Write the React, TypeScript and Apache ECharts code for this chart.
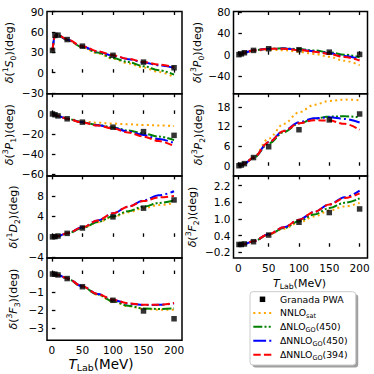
import React, { useEffect, useRef } from "react";
import * as echarts from "echarts";

// ---------------- data ----------------
const curveE = [1, 5, 10, 25, 50, 75, 100, 125, 150, 175, 200];
const pwaE = [1, 5, 10, 25, 50, 100, 150, 200];
const xTicks = [0, 50, 100, 150, 200];

// 1S0
const s1S0_pwa = [32.7, 54.8, 55.2, 48.7, 39.0, 25.5, 15.5, 7.2];
const s1S0_sat = [32.7, 54.5, 55.0, 48.0, 37.0, 28.5, 20.5, 13.5, 7.5, 1.0, -6.5];
const s1S0_nlo = [32.7, 54.5, 55.0, 48.2, 37.5, 29.5, 21.5, 15.5, 9.5, 3.5, -3.0];
const s1S0_n450 = [32.7, 54.6, 55.1, 48.5, 38.5, 31.0, 25.0, 19.8, 15.0, 10.8, 7.0];
const s1S0_n394 = [32.7, 54.8, 55.2, 48.8, 39.0, 31.5, 25.5, 20.3, 15.8, 11.8, 8.0];

// 3P1
const s3P1_pwa = [-0.1, -0.9, -2.0, -4.9, -8.2, -13.2, -17.6, -21.3];
const s3P1_sat = [-0.1, -0.9, -2.0, -4.8, -7.5, -8.8, -9.6, -10.3, -11.0, -11.5, -12.0];
const s3P1_nlo = [-0.1, -0.9, -2.0, -4.9, -8.3, -11.0, -13.5, -16.5, -19.5, -22.5, -26.0];
const s3P1_n450 = [-0.1, -0.9, -2.0, -4.9, -8.4, -11.3, -14.0, -17.5, -21.0, -25.0, -29.0];
const s3P1_n394 = [-0.1, -0.9, -2.0, -5.0, -8.6, -11.6, -14.5, -18.5, -22.5, -27.0, -32.0];

// 1D2
const s1D2_pwa = [0.0, 0.04, 0.16, 0.68, 1.73, 3.9, 5.6, 7.2];
const s1D2_sat = [0.0, 0.04, 0.16, 0.68, 1.7, 2.85, 3.9, 4.8, 5.6, 6.2, 6.6];
const s1D2_nlo = [0.0, 0.04, 0.16, 0.68, 1.7, 2.9, 4.0, 5.0, 5.9, 6.6, 7.1];
const s1D2_n450 = [0.0, 0.04, 0.16, 0.7, 1.85, 3.2, 4.6, 5.9, 7.1, 8.1, 8.9];
const s1D2_n394 = [0.0, 0.04, 0.16, 0.7, 1.85, 3.2, 4.6, 5.9, 7.0, 7.7, 8.0];

// 3F3
const s3F3_pwa = [0.0, -0.01, -0.05, -0.25, -0.7, -1.45, -2.04, -2.47];
const s3F3_sat = [0.0, -0.01, -0.05, -0.25, -0.7, -1.15, -1.52, -1.78, -1.92, -1.97, -1.97];
const s3F3_nlo = [0.0, -0.01, -0.05, -0.25, -0.7, -1.13, -1.5, -1.75, -1.9, -1.93, -1.9];
const s3F3_n450 = [0.0, -0.01, -0.05, -0.24, -0.68, -1.1, -1.43, -1.63, -1.71, -1.7, -1.62];
const s3F3_n394 = [0.0, -0.01, -0.05, -0.24, -0.68, -1.1, -1.42, -1.62, -1.7, -1.7, -1.6];

// 3P0
const s3P0_pwa = [0.1, 1.6, 3.7, 8.1, 11.2, 9.4, 4.8, 0.5];
const s3P0_sat = [0.1, 1.6, 3.6, 7.5, 9.5, 8.5, 5.5, 1.5, -4.0, -11.5, -20.0];
const s3P0_nlo = [0.1, 1.6, 3.7, 8.2, 11.5, 12.0, 10.5, 8.0, 4.5, 0.0, -5.0];
const s3P0_n450 = [0.1, 1.6, 3.7, 8.2, 11.3, 11.5, 9.5, 6.5, 2.5, -2.5, -8.0];
const s3P0_n394 = [0.1, 1.6, 3.7, 8.2, 11.0, 11.0, 9.0, 5.5, 1.5, -4.5, -11.0];

// 3P2
const s3P2_pwa = [0.01, 0.22, 0.65, 2.5, 5.8, 11.0, 14.0, 15.8];
const s3P2_sat = [0.01, 0.22, 0.66, 2.6, 8.3, 12.8, 16.3, 18.6, 19.8, 20.2, 20.0];
const s3P2_nlo = [0.01, 0.22, 0.65, 2.4, 6.8, 10.3, 12.9, 14.4, 15.0, 15.1, 14.8];
const s3P2_n450 = [0.01, 0.22, 0.65, 2.5, 7.2, 10.7, 13.3, 14.5, 14.8, 14.3, 13.2];
const s3P2_n394 = [0.01, 0.22, 0.65, 2.5, 7.2, 10.6, 13.0, 13.9, 13.8, 12.8, 11.0];

// 3F2
const s3F2_pwa = [0.08, 0.08, 0.1, 0.18, 0.42, 0.88, 1.23, 1.36];
const s3F2_sat = [0.08, 0.08, 0.1, 0.2, 0.43, 0.65, 0.87, 1.09, 1.3, 1.45, 1.58];
const s3F2_nlo = [0.08, 0.08, 0.1, 0.2, 0.44, 0.67, 0.92, 1.16, 1.39, 1.58, 1.74];
const s3F2_n450 = [0.08, 0.08, 0.1, 0.2, 0.45, 0.7, 0.97, 1.25, 1.52, 1.78, 2.02];
const s3F2_n394 = [0.08, 0.08, 0.1, 0.2, 0.45, 0.7, 0.97, 1.25, 1.52, 1.75, 1.92];

// y tick labels per panel
const ticks1S0 = [-30, 0, 30, 60, 90];
const ticks3P1 = [-60, -40, -20, 0];
const ticks1D2 = [-4, 0, 4, 8];
const ticks3F3 = [-3, -2, -1, 0];
const ticks3P0 = [-40, 0, 40, 80];
const ticks3P2 = [0, 6, 12, 18];
const ticks3F2 = [-0.2, 0.4, 1.0, 1.6, 2.2];

const legendNames = ["Granada PWA", "NNLOsat", "ΔNLOGO(450)", "ΔNNLOGO(450)", "ΔNNLOGO(394)"];

// ---------------- layout / style ----------------
const FONT = "DejaVu Sans";
const COLORS = ["#FFA500", "#008000", "#0000FF", "#FF0000"];
const DASHES: number[][] = [
  [2, 3.3],
  [9, 2.2, 2, 2.2, 2, 2.2],
  [12.8, 3.2, 2, 3.2],
  [7.4, 3.2],
];
const X_MIN = -8;
const X_MAX = 213;
const TOP0 = 11.5;
const PH = 82.2;

type Panel = {
  col: number;
  row: number;
  yMin: number;
  yMax: number;
  ticks: number[];
  dec: number;
  sup: string;
  L: string;
  sub: string;
  labelX: number;
  curves: number[][];
  pwa: number[];
  bottom: boolean;
};

const panels: Panel[] = [
  { col: 0, row: 0, yMin: -31, yMax: 90, ticks: ticks1S0, dec: 0, sup: "1", L: "S", sub: "0", labelX: 9.5, curves: [s1S0_sat, s1S0_nlo, s1S0_n450, s1S0_n394], pwa: s1S0_pwa, bottom: false },
  { col: 0, row: 1, yMin: -61.5, yMax: 20, ticks: ticks3P1, dec: 0, sup: "3", L: "P", sub: "1", labelX: 9.5, curves: [s3P1_sat, s3P1_nlo, s3P1_n450, s3P1_n394], pwa: s3P1_pwa, bottom: false },
  { col: 0, row: 2, yMin: -4.15, yMax: 11.9, ticks: ticks1D2, dec: 0, sup: "1", L: "D", sub: "2", labelX: 13, curves: [s1D2_sat, s1D2_nlo, s1D2_n450, s1D2_n394], pwa: s1D2_pwa, bottom: false },
  { col: 0, row: 3, yMin: -3.66, yMax: 0.88, ticks: ticks3F3, dec: 0, sup: "3", L: "F", sub: "3", labelX: 13, curves: [s3F3_sat, s3F3_nlo, s3F3_n450, s3F3_n394], pwa: s3F3_pwa, bottom: true },
  { col: 1, row: 0, yMin: -73.5, yMax: 81.4, ticks: ticks3P0, dec: 0, sup: "3", L: "P", sub: "0", labelX: 197.5, curves: [s3P0_sat, s3P0_nlo, s3P0_n450, s3P0_n394], pwa: s3P0_pwa, bottom: false },
  { col: 1, row: 1, yMin: -3.1, yMax: 22, ticks: ticks3P2, dec: 0, sup: "3", L: "P", sub: "2", labelX: 198, curves: [s3P2_sat, s3P2_nlo, s3P2_n450, s3P2_n394], pwa: s3P2_pwa, bottom: false },
  { col: 1, row: 2, yMin: -0.41, yMax: 2.55, ticks: ticks3F2, dec: 1, sup: "3", L: "F", sub: "2", labelX: 192, curves: [s3F2_sat, s3F2_nlo, s3F2_n450, s3F2_n394], pwa: s3F2_pwa, bottom: true },
];

const COL_LEFT = [47, 233.5];
const COL_W = [135, 134];

function fmt(v: number, d: number): string {
  const a = Math.abs(v);
  const s = d > 0 ? a.toFixed(d) : String(Math.round(a));
  return v < -1e-9 ? "\u2212" + s : s;
}

function buildOption() {
  const grid: any[] = [];
  const xAxis: any[] = [];
  const yAxis: any[] = [];
  const series: any[] = [];
  const graphic: any[] = [];

  panels.forEach((p, i) => {
    const top = TOP0 + p.row * PH;
    grid.push({
      left: COL_LEFT[p.col],
      top,
      width: COL_W[p.col],
      height: PH,
      show: true,
      borderColor: "#000",
      borderWidth: 1.5,
      backgroundColor: "transparent",
    });
    const tickCommon = { show: true, inside: true, length: 3.5, lineStyle: { color: "#000", width: 1.3 } };
    xAxis.push({
      type: "value",
      gridIndex: i,
      min: X_MIN,
      max: X_MAX,
      position: "bottom",
      axisLine: { show: false },
      splitLine: { show: false },
      axisTick: { ...tickCommon, customValues: xTicks },
      axisLabel: {
        show: p.bottom,
        customValues: xTicks,
        margin: 4,
        color: "#000",
        fontFamily: FONT,
        fontSize: 10.5,
      },
    });
    xAxis.push({
      type: "value",
      gridIndex: i,
      min: X_MIN,
      max: X_MAX,
      position: "top",
      axisLine: { show: false },
      splitLine: { show: false },
      axisTick: { ...tickCommon, customValues: xTicks },
      axisLabel: { show: false },
    });
    yAxis.push({
      type: "value",
      gridIndex: i,
      min: p.yMin,
      max: p.yMax,
      axisLine: { show: false },
      splitLine: { show: false },
      axisTick: { ...tickCommon, customValues: p.ticks },
      axisLabel: {
        customValues: p.ticks,
        margin: 3,
        color: "#000",
        fontFamily: FONT,
        fontSize: 10.5,
        formatter: (v: number) => fmt(v, p.dec),
      },
    });

    p.curves.forEach((arr, k) => {
      series.push({
        type: "line",
        xAxisIndex: 2 * i,
        yAxisIndex: i,
        data: curveE.map((e, j) => [e, arr[j]]),
        showSymbol: false,
        symbol: "none",
        smooth: 0.35,
        smoothMonotone: "x",
        lineStyle: { color: COLORS[k], width: 2, type: DASHES[k], cap: "butt" },
        z: 2,
        silent: true,
      });
    });
    series.push({
      type: "scatter",
      xAxisIndex: 2 * i,
      yAxisIndex: i,
      data: pwaE.map((e, j) => [e, p.pwa[j]]),
      symbol: "rect",
      symbolSize: 5.5,
      itemStyle: { color: "#000" },
      z: 5,
      silent: true,
    });

    // y label
    graphic.push({
      type: "text",
      x: p.labelX,
      y: top + PH / 2,
      rotation: Math.PI / 2,
      style: {
        text: `{d|δ}{n|(}{sp|${p.sup}}{it|${p.L}}{sb|${p.sub}}{n|)(deg)}`,
        align: "center",
        verticalAlign: "middle",
        rich: {
          d: { fontFamily: FONT, fontSize: 11, fontStyle: "italic", lineHeight: 16, fill: "#000" },
          n: { fontFamily: FONT, fontSize: 11, lineHeight: 16, fill: "#000" },
          it: { fontFamily: FONT, fontSize: 11, fontStyle: "italic", lineHeight: 16, fill: "#000" },
          sp: { fontFamily: FONT, fontSize: 7.7, verticalAlign: "top", lineHeight: 16, fill: "#000" },
          sb: { fontFamily: FONT, fontSize: 7.7, verticalAlign: "bottom", lineHeight: 16, fill: "#000" },
        },
      },
    });
  });

  // x titles
  const xTitle = (x: number, y: number, fs: number) => ({
    type: "text",
    x,
    y,
    style: {
      text: "{it|T}{sb|Lab}{n|(MeV)}",
      align: "center",
      verticalAlign: "middle",
      rich: {
        it: { fontFamily: FONT, fontSize: fs, fontStyle: "italic", lineHeight: fs * 1.3, fill: "#000" },
        n: { fontFamily: FONT, fontSize: fs, lineHeight: fs * 1.3, fill: "#000" },
        sb: { fontFamily: FONT, fontSize: fs * 0.7, verticalAlign: "bottom", lineHeight: fs * 1.3, fill: "#000" },
      },
    },
  });
  graphic.push(xTitle(101, 363.5, 13.5));
  graphic.push(xTitle(299.5, 283, 11));

  // legend
  const LX = 250;
  const LY = 291.7;
  const LW = 105.7;
  const LH = 73.3;
  graphic.push({
    type: "rect",
    shape: { x: LX + 2.5, y: LY + 2.5, width: LW, height: LH, r: 3 },
    style: { fill: "rgba(80,80,80,0.55)" },
    z: 10,
  });
  graphic.push({
    type: "rect",
    shape: { x: LX, y: LY, width: LW, height: LH, r: 3 },
    style: { fill: "#fff", stroke: "#cccccc", lineWidth: 1 },
    z: 11,
  });
  const rowY = [299.3, 312.9, 326.8, 340.7, 354.8];
  const legRich = {
    n: { fontFamily: FONT, fontSize: 9.3, lineHeight: 13, fill: "#000" },
    sb: { fontFamily: FONT, fontSize: 6.5, verticalAlign: "bottom", lineHeight: 13, fill: "#000" },
  };
  const legText = (name: string) => {
    if (name === "NNLOsat") return "{n|NNLO}{sb|sat}";
    const m = name.match(/^(.*)GO(\(.*\))$/);
    if (m) return `{n|${m[1]}}{sb|GO}{n|${m[2]}}`;
    return `{n|${name}}`;
  };
  legendNames.forEach((name, k) => {
    const y = rowY[k];
    if (k === 0) {
      graphic.push({
        type: "rect",
        shape: { x: 262.5 - 2.75, y: y - 2.75, width: 5.5, height: 5.5 },
        style: { fill: "#000" },
        z: 12,
      });
    } else {
      graphic.push({
        type: "line",
        shape: { x1: 253.3, y1: y, x2: 271.7, y2: y },
        style: { stroke: COLORS[k - 1], lineWidth: 2, lineDash: DASHES[k - 1], lineCap: "butt" },
        z: 12,
      });
    }
    graphic.push({
      type: "text",
      x: 280,
      y,
      style: { text: legText(name), align: "left", verticalAlign: "middle", rich: legRich },
      z: 12,
    });
  });

  return {
    animation: false,
    backgroundColor: "#fff",
    grid,
    xAxis,
    yAxis,
    series,
    graphic,
  };
}

export default function App() {
  const ref = useRef<HTMLDivElement>(null);
  useEffect(() => {
    if (!ref.current) return;
    const chart = echarts.init(ref.current, undefined, { renderer: "svg" });
    chart.setOption(buildOption() as any);
    return () => chart.dispose();
  }, []);
  return (
    <div
      ref={ref}
      style={{ position: "absolute", left: 0, top: 0, width: 374, height: 374 }}
    />
  );
}
